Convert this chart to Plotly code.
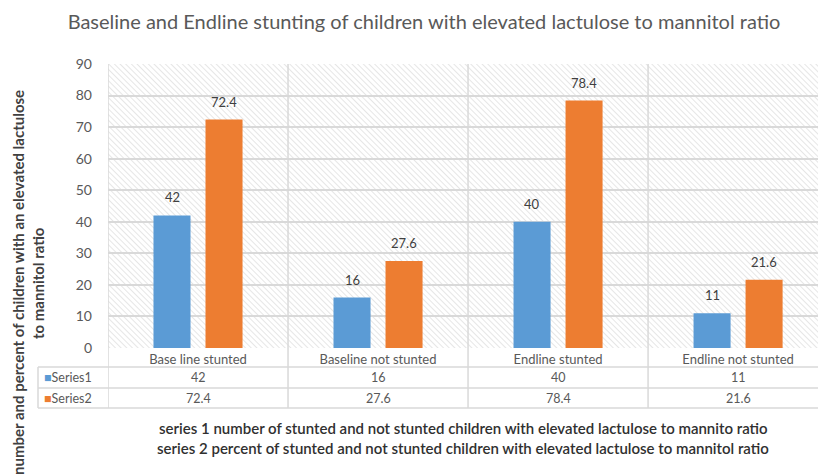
import base64
import plotly.graph_objects as go

categories = ["Base line stunted", "Baseline not stunted", "Endline stunted", "Endline not stunted"]
series_names = ["Series1", "Series2"]
series1 = [42, 16, 40, 11]
series2 = [72.4, 27.6, 78.4, 21.6]
y_ticks = [0, 10, 20, 30, 40, 50, 60, 70, 80, 90]
title = "Baseline and Endline stunting of children with elevated lactulose to mannitol ratio"
y_title_1 = "number and percent of children with an elevated lactulose"
y_title_2 = "to mannitol ratio"
caption_1 = "series 1 number of stunted and not stunted children with elevated lactulose to mannito ratio"
caption_2 = "series 2 percent of stunted and not stunted children with elevated lactulose to mannitol ratio"

colors = ["#5B9BD5", "#ED7D31"]
FONT = "Lato"
W, H = 818, 475
ML, MR, MT, MB = 108, 0, 64, 127
PW, PH = W - ML - MR, H - MT - MB
GRID = "#d9d9d9"
TXT = "#595959"


def py(pix):  # pixel y -> paper y
    return (MT + PH - pix) / PH


def px(pix):  # pixel x -> paper x
    return (pix - ML) / PW


idx = list(range(len(categories)))
fig = go.Figure()
for name, vals, col in zip(series_names, [series1, series2], colors):
    fig.add_trace(go.Bar(x=idx, y=vals, name=name, marker=dict(color=col, line=dict(color=col, width=0)),
                         showlegend=False))

# hatched background as an svg image
svg = (f'<svg xmlns="http://www.w3.org/2000/svg" width="{PW}" height="{PH}" viewBox="0 0 {PW} {PH}">'
       '<defs><pattern id="p" width="4" height="4" patternUnits="userSpaceOnUse" patternTransform="rotate(-45)">'
       '<rect width="4" height="4" fill="#ffffff"/>'
       '<line x1="0" y1="0" x2="0" y2="4" stroke="#d6d6d6" stroke-width="1.2"/></pattern></defs>'
       f'<rect width="{PW}" height="{PH}" fill="url(#p)"/></svg>')
uri = "data:image/svg+xml;base64," + base64.b64encode(svg.encode()).decode()
fig.add_layout_image(dict(source=uri, xref="paper", yref="paper", x=0, y=1, sizex=1, sizey=1,
                          xanchor="left", yanchor="top", sizing="stretch", layer="below"))

annotations = []
# data labels
offs = [-26, 26]
for s, vals in enumerate([series1, series2]):
    for i, v in zip(idx, vals):
        annotations.append(dict(x=i, y=v, xref="x", yref="y", text=f"{v:g}", showarrow=False,
                                xshift=offs[s], yshift=8, yanchor="bottom",
                                font=dict(family=FONT, size=13, color="#404040")))

shapes = []
row_lines = [367, 388, 408]
for b in idx:
    shapes.append(dict(type="line", xref="x", yref="paper", x0=b - 0.5, x1=b - 0.5,
                       y0=py(row_lines[-1]), y1=1, line=dict(color=GRID, width=1.5)))
shapes.append(dict(type="line", xref="paper", yref="paper", x0=px(38), x1=px(38),
                   y0=py(row_lines[-1]), y1=py(row_lines[0]), line=dict(color=GRID, width=1.5)))
for r in row_lines:
    shapes.append(dict(type="line", xref="paper", yref="paper", x0=px(38), x1=1.02,
                       y0=py(r), y1=py(r), line=dict(color=GRID, width=1.5)))

# table
row_centers = [(row_lines[0] + row_lines[1]) / 2, (row_lines[1] + row_lines[2]) / 2]
for s, vals in enumerate([series1, series2]):
    annotations.append(dict(x=px(42), y=py(row_centers[s]), xref="paper", yref="paper",
                            text=f"<span style='color:{colors[s]}'>■</span>{series_names[s]}",
                            showarrow=False, xanchor="left", yanchor="middle",
                            font=dict(family=FONT, size=12.5, color=TXT)))
    for i, v in zip(idx, vals):
        annotations.append(dict(x=i, y=py(row_centers[s]), xref="x", yref="paper", text=f"{v:g}",
                                showarrow=False, yanchor="middle",
                                font=dict(family=FONT, size=12.5, color=TXT)))

# y title (two lines)
annotations.append(dict(x=px(18), y=py(283), xref="paper", yref="paper", text=f"<b>{y_title_1}</b>",
                        textangle=-90, showarrow=False, xanchor="center", yanchor="middle",
                        font=dict(family=FONT, size=15, color="#404040")))
annotations.append(dict(x=px(38), y=py(283), xref="paper", yref="paper", text=f"<b>{y_title_2}</b>",
                        textangle=-90, showarrow=False, xanchor="center", yanchor="middle",
                        font=dict(family=FONT, size=15, color="#404040")))
# captions
annotations.append(dict(x=px(463), y=py(428), xref="paper", yref="paper", text=caption_1,
                        showarrow=False, yanchor="middle",
                        font=dict(family=FONT, size=15, color="#303030", weight=600)))
annotations.append(dict(x=px(463), y=py(448), xref="paper", yref="paper", text=caption_2,
                        showarrow=False, yanchor="middle",
                        font=dict(family=FONT, size=15, color="#303030", weight=600)))

fig.update_layout(
    width=W, height=H,
    margin=dict(l=ML, r=MR, t=MT, b=MB),
    paper_bgcolor="white", plot_bgcolor="white",
    title=dict(text=title, xref="container", x=424 / W, xanchor="center", y=1 - 22 / H, yanchor="middle",
               font=dict(family=FONT, size=20, color=TXT)),
    barmode="group", bargap=0.422, bargroupgap=0.288,
    xaxis=dict(range=[-0.5, 3.444], tickvals=idx, ticktext=categories, showgrid=False,
               zeroline=False, showline=False, ticks="", ticklabelstandoff=2,
               tickfont=dict(family=FONT, size=13, color=TXT)),
    yaxis=dict(range=[0, 90], tickvals=y_ticks, showgrid=True, gridcolor=GRID, gridwidth=1.5,
               zeroline=False, showline=False, ticks="", ticklabelstandoff=15,
               tickfont=dict(family=FONT, size=14, color=TXT)),
    shapes=shapes, annotations=annotations,
)

fig.write_html("out.html")
